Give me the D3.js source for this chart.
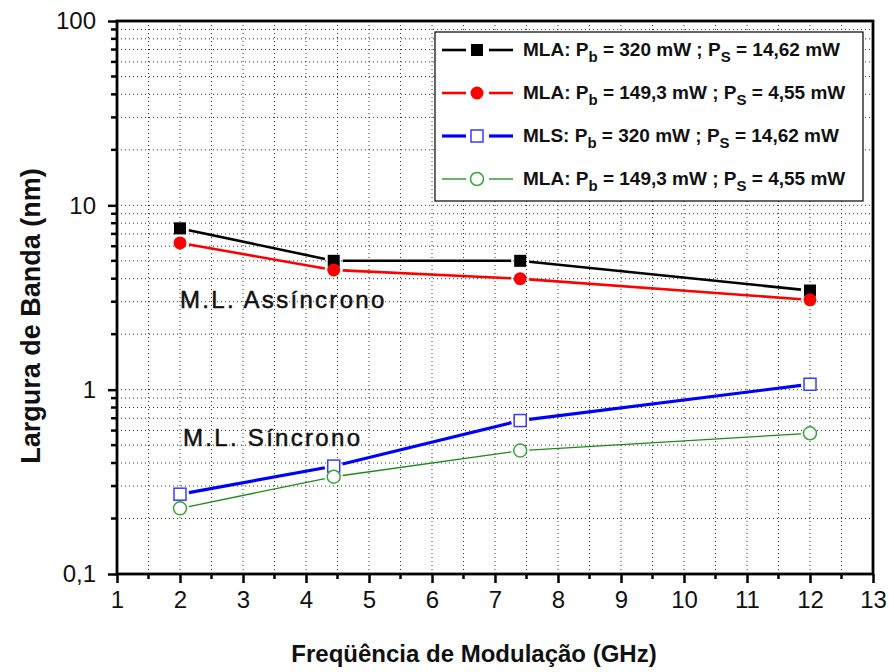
<!DOCTYPE html>
<html>
<head>
<meta charset="utf-8">
<script src="https://cdn.jsdelivr.net/npm/d3@7"></script>
<style>
  body { margin: 0; background: #fff; }
  text { font-family: "Liberation Sans", Arial, sans-serif; fill: #111; }
</style>
</head>
<body>
<div id="chart"></div>
<script>
// modulation frequency (GHz)
const freq = [2, 4.44, 7.4, 12]
// bandwidth (nm) per series
const mlaHigh = [7.5, 5.0, 5.0, 3.45]
const mlaLow = [6.25, 4.46, 4.0, 3.07]
const mlsHigh = [0.271, 0.385, 0.68, 1.07]
const mlsLow = [0.227, 0.337, 0.467, 0.58]

const xTicks = [1, 2, 3, 4, 5, 6, 7, 8, 9, 10, 11, 12, 13]
const yTicks = [0.1, 1, 10, 100]
const yTickLabels = ['0,1', '1', '10', '100']

const series = [
  { name: 'MLA', pb: '320', ps: '14,62', values: mlaHigh, color: '#000', width: 2.6, marker: 'square', fill: true },
  { name: 'MLA', pb: '149,3', ps: '4,55', values: mlaLow, color: '#f00', width: 2.6, marker: 'circle', fill: true },
  { name: 'MLS', pb: '320', ps: '14,62', values: mlsHigh, color: '#00f', mcolor: '#3b3bff', width: 3.2, marker: 'square', fill: false },
  { name: 'MLA', pb: '149,3', ps: '4,55', values: mlsLow, color: '#1a8a1a', mcolor: '#3aa53a', width: 1.3, marker: 'circle', fill: false }
]

const W = 889, H = 672
const mLeft = 117, mRight = 873, mTop = 21, mBottom = 574

let svg = d3.select('#chart').append('svg').attr('width', W).attr('height', H)

let x = d3.scaleLinear().domain([1, 13]).range([mLeft, mRight])
let y = d3.scaleLog().domain([0.1, 100]).range([mBottom, mTop])

// minor values
let xMinor = d3.range(1.5, 13, 1)
let yMinor = []
;[0.1, 1, 10].forEach((d) => { for (let k = 2; k <= 9; k++) yMinor.push(d * k) })

// grid
let grid = svg.append('g').attr('stroke', '#333').attr('stroke-width', 1).attr('stroke-dasharray', '1,3')
grid.selectAll('.gx').data(xTicks.slice(1, -1).concat(xMinor)).enter().append('line')
    .attr('x1', (d) => x(d)).attr('x2', (d) => x(d))
    .attr('y1', mTop).attr('y2', mBottom)
grid.selectAll('.gy').data(yTicks.slice(1, -1).concat(yMinor)).enter().append('line')
    .attr('x1', mLeft).attr('x2', mRight)
    .attr('y1', (d) => y(d)).attr('y2', (d) => y(d))

// axes
let xAxis = d3.axisBottom(x).tickValues(xTicks).tickSize(9).tickPadding(5).tickFormat(d3.format('d'))
let gx = svg.append('g').attr('transform', `translate(0,${mBottom})`).call(xAxis)
gx.selectAll('.tick line').attr('stroke-width', 2.5)
gx.selectAll('.tick text').attr('font-size', 24).attr('dy', '0.85em')
gx.select('.domain').remove()
svg.append('g').selectAll('line').data(xMinor).enter().append('line')
    .attr('x1', (d) => x(d)).attr('x2', (d) => x(d))
    .attr('y1', mBottom).attr('y2', mBottom + 5)
    .attr('stroke', '#000').attr('stroke-width', 2.5)

let yAxis = d3.axisLeft(y).tickValues(yTicks).tickSize(9).tickPadding(12).tickFormat((d, i) => yTickLabels[i])
let gy = svg.append('g').attr('transform', `translate(${mLeft},0)`).call(yAxis)
gy.selectAll('.tick line').attr('stroke-width', 2.5)
gy.selectAll('.tick text').attr('font-size', 24)
gy.select('.domain').remove()
svg.append('g').selectAll('line').data(yMinor).enter().append('line')
    .attr('x1', mLeft).attr('x2', mLeft - 6)
    .attr('y1', (d) => y(d)).attr('y2', (d) => y(d))
    .attr('stroke', '#000').attr('stroke-width', 2.5)

// frame
svg.append('rect').attr('x', mLeft).attr('y', mTop).attr('width', mRight - mLeft).attr('height', mBottom - mTop)
    .attr('fill', 'none').attr('stroke', '#000').attr('stroke-width', 2.8)

// series lines, with Origin-style gaps around the symbols
let gap = 9
series.forEach((s) => {
  let pts = freq.map((f, i) => [x(f), y(s.values[i])])
  let segs = []
  for (let i = 0; i < pts.length - 1; i++) {
    let [x0, y0] = pts[i]
    let [x1, y1] = pts[i + 1]
    let len = Math.hypot(x1 - x0, y1 - y0)
    let ux = (x1 - x0) / len, uy = (y1 - y0) / len
    segs.push([x0 + ux * gap, y0 + uy * gap, x1 - ux * gap, y1 - uy * gap])
  }
  svg.append('g').selectAll('line').data(segs).enter().append('line')
      .attr('x1', (d) => d[0]).attr('y1', (d) => d[1])
      .attr('x2', (d) => d[2]).attr('y2', (d) => d[3])
      .attr('stroke', s.color).attr('stroke-width', s.width)
})

function drawMarker (g, s, cx, cy) {
  let mc = s.mcolor || s.color
  if (s.marker === 'square') {
    g.append('rect').attr('x', cx - 6).attr('y', cy - 6).attr('width', 12).attr('height', 12)
        .attr('fill', s.fill ? mc : '#fff').attr('stroke', mc).attr('stroke-width', s.fill ? 0 : 1.5)
  } else {
    g.append('circle').attr('cx', cx).attr('cy', cy).attr('r', 6.5)
        .attr('fill', s.fill ? mc : '#fff').attr('stroke', mc).attr('stroke-width', s.fill ? 0 : 1.5)
  }
}

series.forEach((s) => {
  let g = svg.append('g')
  freq.forEach((f, i) => drawMarker(g, s, x(f), y(s.values[i])))
})

// legend
let lg = svg.append('g')
lg.append('rect').attr('x', 435).attr('y', 32).attr('width', 428).attr('height', 169)
    .attr('fill', '#fff').attr('stroke', '#000').attr('stroke-width', 1.2)
let rowY = [50, 93, 136, 179]
series.forEach((s, i) => {
  let ry = rowY[i]
  lg.append('line').attr('x1', 442).attr('x2', 466).attr('y1', ry).attr('y2', ry)
      .attr('stroke', s.color).attr('stroke-width', s.width)
  lg.append('line').attr('x1', 489).attr('x2', 513).attr('y1', ry).attr('y2', ry)
      .attr('stroke', s.color).attr('stroke-width', s.width)
  drawMarker(lg, s, 477, ry)
  let t = lg.append('text').attr('x', 523).attr('y', ry + 6).attr('font-size', 19).attr('font-weight', 'bold')
  t.append('tspan').text(s.name + ': P')
  t.append('tspan').attr('font-size', 15).attr('dy', 6).text('b')
  t.append('tspan').attr('dy', -6).text(' = ' + s.pb + ' mW ; P')
  t.append('tspan').attr('font-size', 15).attr('dy', 6).text('S')
  t.append('tspan').attr('dy', -6).text(' = ' + s.ps + ' mW')
})

// annotations
svg.append('text').attr('x', 180).attr('y', 308).attr('font-size', 24).attr('letter-spacing', 2.3)
    .attr('stroke', '#111').attr('stroke-width', 0.5)
    .text('M.L. Assíncrono')
svg.append('text').attr('x', 183).attr('y', 446).attr('font-size', 24).attr('letter-spacing', 2.3)
    .attr('stroke', '#111').attr('stroke-width', 0.5)
    .text('M.L. Síncrono')

// axis titles
svg.append('text').attr('x', 474).attr('y', 662).attr('text-anchor', 'middle')
    .attr('font-size', 24).attr('font-weight', 'bold')
    .text('Freqüência de Modulação (GHz)')
svg.append('text').attr('transform', 'translate(40,316) rotate(-90)')
    .attr('text-anchor', 'middle').attr('font-size', 27).attr('font-weight', 'bold')
    .text('Largura de Banda (nm)')
</script>
</body>
</html>
